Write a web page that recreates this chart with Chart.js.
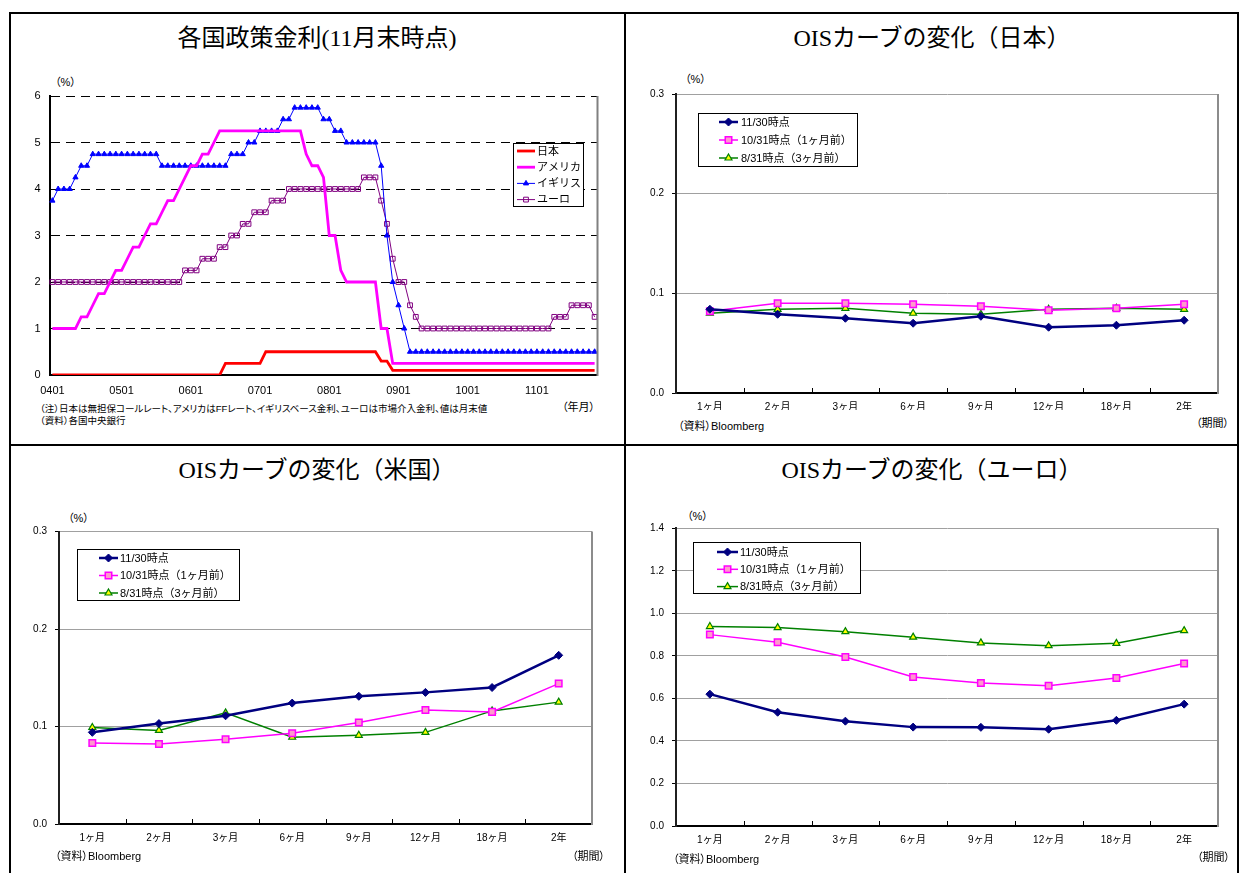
<!DOCTYPE html>
<html lang="ja">
<head>
<meta charset="utf-8">
<title>各国政策金利とOISカーブの変化</title>
<script src="https://cdn.jsdelivr.net/npm/chart.js@4.4.1/dist/chart.umd.min.js"></script>
<style>
  html, body { margin: 0; padding: 0; background: #fff; }
  body {
    width: 1239px; height: 873px; position: relative; overflow: hidden;
    font-family: "Liberation Sans", "Noto Sans CJK JP", sans-serif; color: #000;
  }
  .rule { position: absolute; background: #000; }
  canvas { position: absolute; }
  .t { position: absolute; white-space: nowrap; line-height: 1; font-feature-settings: "palt"; }
  .title {
    font-family: "Liberation Serif", "Noto Sans CJK JP", serif;
    font-size: 24px; transform: translateX(-50%); font-feature-settings: normal;
  }
  .unit { font-size: 11px; }
  .note { font-size: 9.5px; }
  .src { font-size: 11px; }
</style>
</head>
<body>
  <!-- panel frame -->
  <div class="rule" style="left:9px;top:12px;width:1230px;height:2px"></div>
  <div class="rule" style="left:9px;top:12px;width:2px;height:861px"></div>
  <div class="rule" style="left:1237px;top:12px;width:2px;height:861px"></div>
  <div class="rule" style="left:624px;top:12px;width:2px;height:861px"></div>
  <div class="rule" style="left:9px;top:444px;width:1230px;height:2px"></div>

  <!-- top left: policy rates -->
  <div class="t title" style="left:317px;top:26px">各国政策金利(11月末時点)</div>
  <div class="t unit" style="left:55px;top:77px">（%）</div>
  <canvas id="c1" width="610" height="320" style="left:12px;top:80px"></canvas>
  <div class="t note" style="left:40px;top:404px">（注）日本は無担保コールレート、アメリカはFFレート、イギリスベース金利、ユーロは市場介入金利、値は月末値</div>
  <div class="t note" style="left:40px;top:416px">（資料）各国中央銀行</div>
  <div class="t src" style="left:562px;top:402px">（年月）</div>

  <!-- top right: Japan OIS -->
  <div class="t title" style="left:932px;top:26px">OISカーブの変化（日本）</div>
  <div class="t unit" style="left:685px;top:74px">（%）</div>
  <canvas id="c2" width="605" height="330" style="left:628px;top:80px"></canvas>
  <div class="t src" style="left:678px;top:421px">（資料）Bloomberg</div>
  <div class="t src" style="left:1196px;top:418px">（期間）</div>

  <!-- bottom left: US OIS -->
  <div class="t title" style="left:317px;top:458px">OISカーブの変化（米国）</div>
  <div class="t unit" style="left:68px;top:513px">（%）</div>
  <canvas id="c3" width="610" height="345" style="left:12px;top:510px"></canvas>
  <div class="t src" style="left:55px;top:851px">（資料）Bloomberg</div>
  <div class="t src" style="left:572px;top:851px">（期間）</div>

  <!-- bottom right: Euro OIS -->
  <div class="t title" style="left:932px;top:458px">OISカーブの変化（ユーロ）</div>
  <div class="t unit" style="left:687px;top:511px">（%）</div>
  <canvas id="c4" width="605" height="345" style="left:628px;top:510px"></canvas>
  <div class="t src" style="left:673px;top:854px">（資料）Bloomberg</div>
  <div class="t src" style="left:1197px;top:852px">（期間）</div>

<script>
// ---- policy rates, month-end values, Jan 2004 - Nov 2011 ----
const months = [
  '0401','0402','0403','0404','0405','0406','0407','0408','0409','0410','0411','0412',
  '0501','0502','0503','0504','0505','0506','0507','0508','0509','0510','0511','0512',
  '0601','0602','0603','0604','0605','0606','0607','0608','0609','0610','0611','0612',
  '0701','0702','0703','0704','0705','0706','0707','0708','0709','0710','0711','0712',
  '0801','0802','0803','0804','0805','0806','0807','0808','0809','0810','0811','0812',
  '0901','0902','0903','0904','0905','0906','0907','0908','0909','0910','0911','0912',
  '1001','1002','1003','1004','1005','1006','1007','1008','1009','1010','1011','1012',
  '1101','1102','1103','1104','1105','1106','1107','1108','1109','1110','1111'
];
const rateJapan = [
  0,0,0,0,0,0,0,0,0,0,0,0,
  0,0,0,0,0,0,0,0,0,0,0,0,
  0,0,0,0,0,0,0.25,0.25,0.25,0.25,0.25,0.25,
  0.25,0.5,0.5,0.5,0.5,0.5,0.5,0.5,0.5,0.5,0.5,0.5,
  0.5,0.5,0.5,0.5,0.5,0.5,0.5,0.5,0.5,0.3,0.3,0.1,
  0.1,0.1,0.1,0.1,0.1,0.1,0.1,0.1,0.1,0.1,0.1,0.1,
  0.1,0.1,0.1,0.1,0.1,0.1,0.1,0.1,0.1,0.1,0.1,0.1,
  0.1,0.1,0.1,0.1,0.1,0.1,0.1,0.1,0.1,0.1,0.1
];
const rateUS = [
  1,1,1,1,1,1.25,1.25,1.5,1.75,1.75,2,2.25,
  2.25,2.5,2.75,2.75,3,3.25,3.25,3.5,3.75,3.75,4,4.25,
  4.5,4.5,4.75,4.75,5,5.25,5.25,5.25,5.25,5.25,5.25,5.25,
  5.25,5.25,5.25,5.25,5.25,5.25,5.25,5.25,4.75,4.5,4.5,4.25,
  3,3,2.25,2,2,2,2,2,2,1,1,0.25,
  0.25,0.25,0.25,0.25,0.25,0.25,0.25,0.25,0.25,0.25,0.25,0.25,
  0.25,0.25,0.25,0.25,0.25,0.25,0.25,0.25,0.25,0.25,0.25,0.25,
  0.25,0.25,0.25,0.25,0.25,0.25,0.25,0.25,0.25,0.25,0.25
];
const rateUK = [
  3.75,4,4,4,4.25,4.5,4.5,4.75,4.75,4.75,4.75,4.75,
  4.75,4.75,4.75,4.75,4.75,4.75,4.75,4.5,4.5,4.5,4.5,4.5,
  4.5,4.5,4.5,4.5,4.5,4.5,4.5,4.75,4.75,4.75,5,5,
  5.25,5.25,5.25,5.25,5.5,5.5,5.75,5.75,5.75,5.75,5.75,5.5,
  5.5,5.25,5.25,5,5,5,5,5,5,4.5,3,2,
  1.5,1,0.5,0.5,0.5,0.5,0.5,0.5,0.5,0.5,0.5,0.5,
  0.5,0.5,0.5,0.5,0.5,0.5,0.5,0.5,0.5,0.5,0.5,0.5,
  0.5,0.5,0.5,0.5,0.5,0.5,0.5,0.5,0.5,0.5,0.5
];
const rateEuro = [
  2,2,2,2,2,2,2,2,2,2,2,2,
  2,2,2,2,2,2,2,2,2,2,2,2.25,
  2.25,2.25,2.5,2.5,2.5,2.75,2.75,3,3,3.25,3.25,3.5,
  3.5,3.5,3.75,3.75,3.75,4,4,4,4,4,4,4,
  4,4,4,4,4,4,4.25,4.25,4.25,3.75,3.25,2.5,
  2,2,1.5,1.25,1,1,1,1,1,1,1,1,
  1,1,1,1,1,1,1,1,1,1,1,1,
  1,1,1,1.25,1.25,1.25,1.5,1.5,1.5,1.5,1.25
];

// ---- OIS curves by tenor ----
const tenors = ['1ヶ月','2ヶ月','3ヶ月','6ヶ月','9ヶ月','12ヶ月','18ヶ月','2年'];
const curveLabels = ['11/30時点', '10/31時点（1ヶ月前）', '8/31時点（3ヶ月前）'];

const oisJapanNov = [0.084, 0.079, 0.075, 0.070, 0.077, 0.066, 0.068, 0.073];
const oisJapanOct = [0.082, 0.090, 0.090, 0.089, 0.087, 0.083, 0.085, 0.089];
const oisJapanAug = [0.080, 0.084, 0.085, 0.080, 0.079, 0.084, 0.085, 0.084];

const oisUSNov = [0.094, 0.103, 0.111, 0.124, 0.131, 0.135, 0.140, 0.173];
const oisUSOct = [0.083, 0.082, 0.087, 0.093, 0.104, 0.117, 0.115, 0.144];
const oisUSAug = [0.099, 0.096, 0.114, 0.089, 0.091, 0.094, 0.116, 0.125];

const oisEuroNov = [0.620, 0.535, 0.493, 0.465, 0.464, 0.455, 0.497, 0.573];
const oisEuroOct = [0.900, 0.864, 0.795, 0.701, 0.673, 0.659, 0.696, 0.764];
const oisEuroAug = [0.938, 0.933, 0.914, 0.888, 0.861, 0.848, 0.859, 0.919];

const FONT = '"Liberation Sans", "Noto Sans CJK JP", sans-serif';
Chart.defaults.font.family = FONT;
Chart.defaults.color = '#000';

// Boxed legend drawn inside the plot, listing every dataset with its line and marker.
const insetLegend = {
  id: 'insetLegend',
  afterDraw(chart, args, o) {
    if (!o || !o.box) return;
    const ctx = chart.ctx;
    const b = o.box;
    ctx.save();
    ctx.fillStyle = '#fff';
    ctx.fillRect(b.x, b.y, b.w, b.h);
    ctx.strokeStyle = '#000';
    ctx.lineWidth = 1;
    ctx.strokeRect(b.x + 0.5, b.y + 0.5, b.w - 1, b.h - 1);
    chart.data.datasets.forEach((ds, i) => {
      const cy = b.y + o.firstRow + i * o.rowH;
      const x0 = b.x + o.padX;
      ctx.strokeStyle = ds.borderColor;
      ctx.lineWidth = ds.borderWidth;
      ctx.beginPath();
      ctx.moveTo(x0, cy);
      ctx.lineTo(x0 + o.lineLen, cy);
      ctx.stroke();
      if (ds.pointRadius > 0) {
        ctx.fillStyle = ds.pointBackgroundColor;
        ctx.strokeStyle = ds.pointBorderColor;
        ctx.lineWidth = ds.pointBorderWidth;
        Chart.helpers.drawPoint(ctx, {
          pointStyle: ds.pointStyle, radius: ds.pointRadius,
          borderWidth: ds.pointBorderWidth, rotation: 0
        }, x0 + o.lineLen / 2, cy);
      }
      ctx.fillStyle = '#000';
      ctx.font = o.font;
      ctx.textAlign = 'left';
      ctx.textBaseline = 'middle';
      ctx.fillText(ds.label, x0 + o.lineLen + o.gap, cy + 0.5);
    });
    ctx.restore();
  }
};

// Right-hand edge of the plot area, plus small inward ticks between categories.
const plotEdge = {
  id: 'plotEdge',
  afterDraw(chart, args, o) {
    const a = chart.chartArea, ctx = chart.ctx;
    ctx.save();
    ctx.strokeStyle = o.color || '#808080';
    ctx.lineWidth = o.width || 2;
    ctx.beginPath();
    ctx.moveTo(a.right, a.top);
    ctx.lineTo(a.right, a.bottom + 1);
    ctx.stroke();
    if (o.innerTicks) {
      const xs = chart.scales.x, n = chart.data.labels.length;
      ctx.strokeStyle = '#000';
      ctx.lineWidth = 1;
      ctx.beginPath();
      for (let i = 1; i < n; i++) {
        const px = Math.round((xs.getPixelForValue(i - 1) + xs.getPixelForValue(i)) / 2) + 0.5;
        ctx.moveTo(px, a.bottom);
        ctx.lineTo(px, a.bottom - 5);
      }
      ctx.stroke();
    }
    ctx.restore();
  }
};

Chart.register(insetLegend, plotEdge);

// ---- policy rate chart ----
new Chart(document.getElementById('c1'), {
  type: 'line',
  data: {
    labels: months,
    datasets: [
      { label: '日本', data: rateJapan, borderColor: '#FF0000', borderWidth: 2.8,
        pointRadius: 0, pointStyle: false },
      { label: 'アメリカ', data: rateUS, borderColor: '#FF00FF', borderWidth: 2.8,
        pointRadius: 0, pointStyle: false },
      { label: 'イギリス', data: rateUK, borderColor: '#0000FF', borderWidth: 1,
        pointStyle: 'triangle', pointRadius: 3, pointBackgroundColor: '#0000FF',
        pointBorderColor: '#0000FF', pointBorderWidth: 1 },
      { label: 'ユーロ', data: rateEuro, borderColor: '#800080', borderWidth: 1,
        pointStyle: 'rect', pointRadius: 3.4, pointBackgroundColor: 'rgba(0,0,0,0)',
        pointBorderColor: '#800080', pointBorderWidth: 1 }
    ]
  },
  options: {
    responsive: false, animation: false, devicePixelRatio: 1,
    layout: { padding: { left: 0, top: 16, right: 24.5, bottom: 0 } },
    elements: { line: { tension: 0 } },
    plugins: {
      legend: { display: false }, tooltip: { enabled: false },
      insetLegend: { box: { x: 501, y: 63, w: 71, h: 64 }, firstRow: 8, rowH: 16.2,
        padX: 4, lineLen: 18, gap: 2, font: '11px ' + FONT },
      plotEdge: { color: '#808080', width: 2 }
    },
    scales: {
      x: {
        type: 'category', offset: true,
        grid: { display: false, drawTicks: false },
        border: { display: true, color: '#000', width: 2 },
        ticks: { autoSkip: false, maxRotation: 0, padding: 9, font: { size: 11 },
          callback: function (v, i) { return i % 12 === 0 ? months[i] : ''; } },
        afterFit: s => { s.height = 25; }
      },
      y: {
        min: 0, max: 6,
        grid: { color: ctx => ctx.tick.value === 0 ? 'rgba(0,0,0,0)' : '#000', lineWidth: 1,
          drawTicks: false },
        border: { display: true, color: '#000', width: 2, dash: [9, 6] },
        ticks: { stepSize: 1, padding: 9, font: { size: 11 } },
        afterFit: s => { s.width = 37.5; }
      }
    }
  }
});

// ---- OIS curve charts ----
function curveSets(nov, oct, aug) {
  return [
    { label: curveLabels[0], data: nov, borderColor: '#000080', borderWidth: 2.5,
      pointStyle: 'rectRot', pointRadius: 4, pointBackgroundColor: '#000080',
      pointBorderColor: '#000080', pointBorderWidth: 1 },
    { label: curveLabels[1], data: oct, borderColor: '#FF00FF', borderWidth: 1.5,
      pointStyle: 'rect', pointRadius: 4.6, pointBackgroundColor: '#FF99CC',
      pointBorderColor: '#FF00FF', pointBorderWidth: 1.5 },
    { label: curveLabels[2], data: aug, borderColor: '#008000', borderWidth: 1.5,
      pointStyle: 'triangle', pointRadius: 4, pointBackgroundColor: '#FFFF00',
      pointBorderColor: '#008000', pointBorderWidth: 1.2 }
  ];
}

function curveChart(id, sets, yMax, yStep, pad, yWidth, xHeight, legend) {
  return new Chart(document.getElementById(id), {
    type: 'line',
    data: { labels: tenors, datasets: sets },
    options: {
      responsive: false, animation: false, devicePixelRatio: 1,
      layout: { padding: pad },
      elements: { line: { tension: 0 } },
      plugins: {
        legend: { display: false }, tooltip: { enabled: false },
        insetLegend: Object.assign({ font: '11px ' + FONT }, legend),
        plotEdge: { color: '#8c8c8c', width: 2, innerTicks: true }
      },
      scales: {
        x: {
          type: 'category', offset: true,
          grid: { display: false, drawTicks: false },
          border: { display: true, color: '#000', width: 2 },
          ticks: { autoSkip: false, maxRotation: 0, padding: 8, font: { size: 10 } },
          afterFit: s => { s.height = xHeight; }
        },
        y: {
          min: 0, max: yMax,
          grid: { color: ctx => ctx.tick.value === 0 ? 'rgba(0,0,0,0)' : '#a0a0a0',
            lineWidth: 1, drawTicks: true, tickLength: 4, tickColor: '#000' },
          border: { display: true, color: '#202020', width: 2 },
          ticks: { stepSize: yStep, padding: 8, font: { size: 10 },
            callback: v => Number(v).toFixed(1) },
          afterFit: s => { s.width = yWidth; }
        }
      }
    }
  });
}

curveChart('c2', curveSets(oisJapanNov, oisJapanOct, oisJapanAug), 0.3, 0.1,
  { left: 0, top: 13, right: 15, bottom: 0 }, 48, 17,
  { box: { x: 70, y: 33, w: 160, h: 54 }, firstRow: 9, rowH: 18, padX: 21, lineLen: 19, gap: 3 });

curveChart('c3', curveSets(oisUSNov, oisUSOct, oisUSAug), 0.3, 0.1,
  { left: 0, top: 21.5, right: 30, bottom: 0 }, 47, 31,
  { box: { x: 65, y: 39, w: 163, h: 52 }, firstRow: 9, rowH: 17.5, padX: 22, lineLen: 19, gap: 2 });

curveChart('c4', curveSets(oisEuroNov, oisEuroOct, oisEuroAug), 1.4, 0.2,
  { left: 0, top: 18.3, right: 15, bottom: 0 }, 48, 29,
  { box: { x: 65, y: 32, w: 168, h: 52 }, firstRow: 10, rowH: 17.3, padX: 24, lineLen: 21, gap: 2 });
</script>
</body>
</html>
